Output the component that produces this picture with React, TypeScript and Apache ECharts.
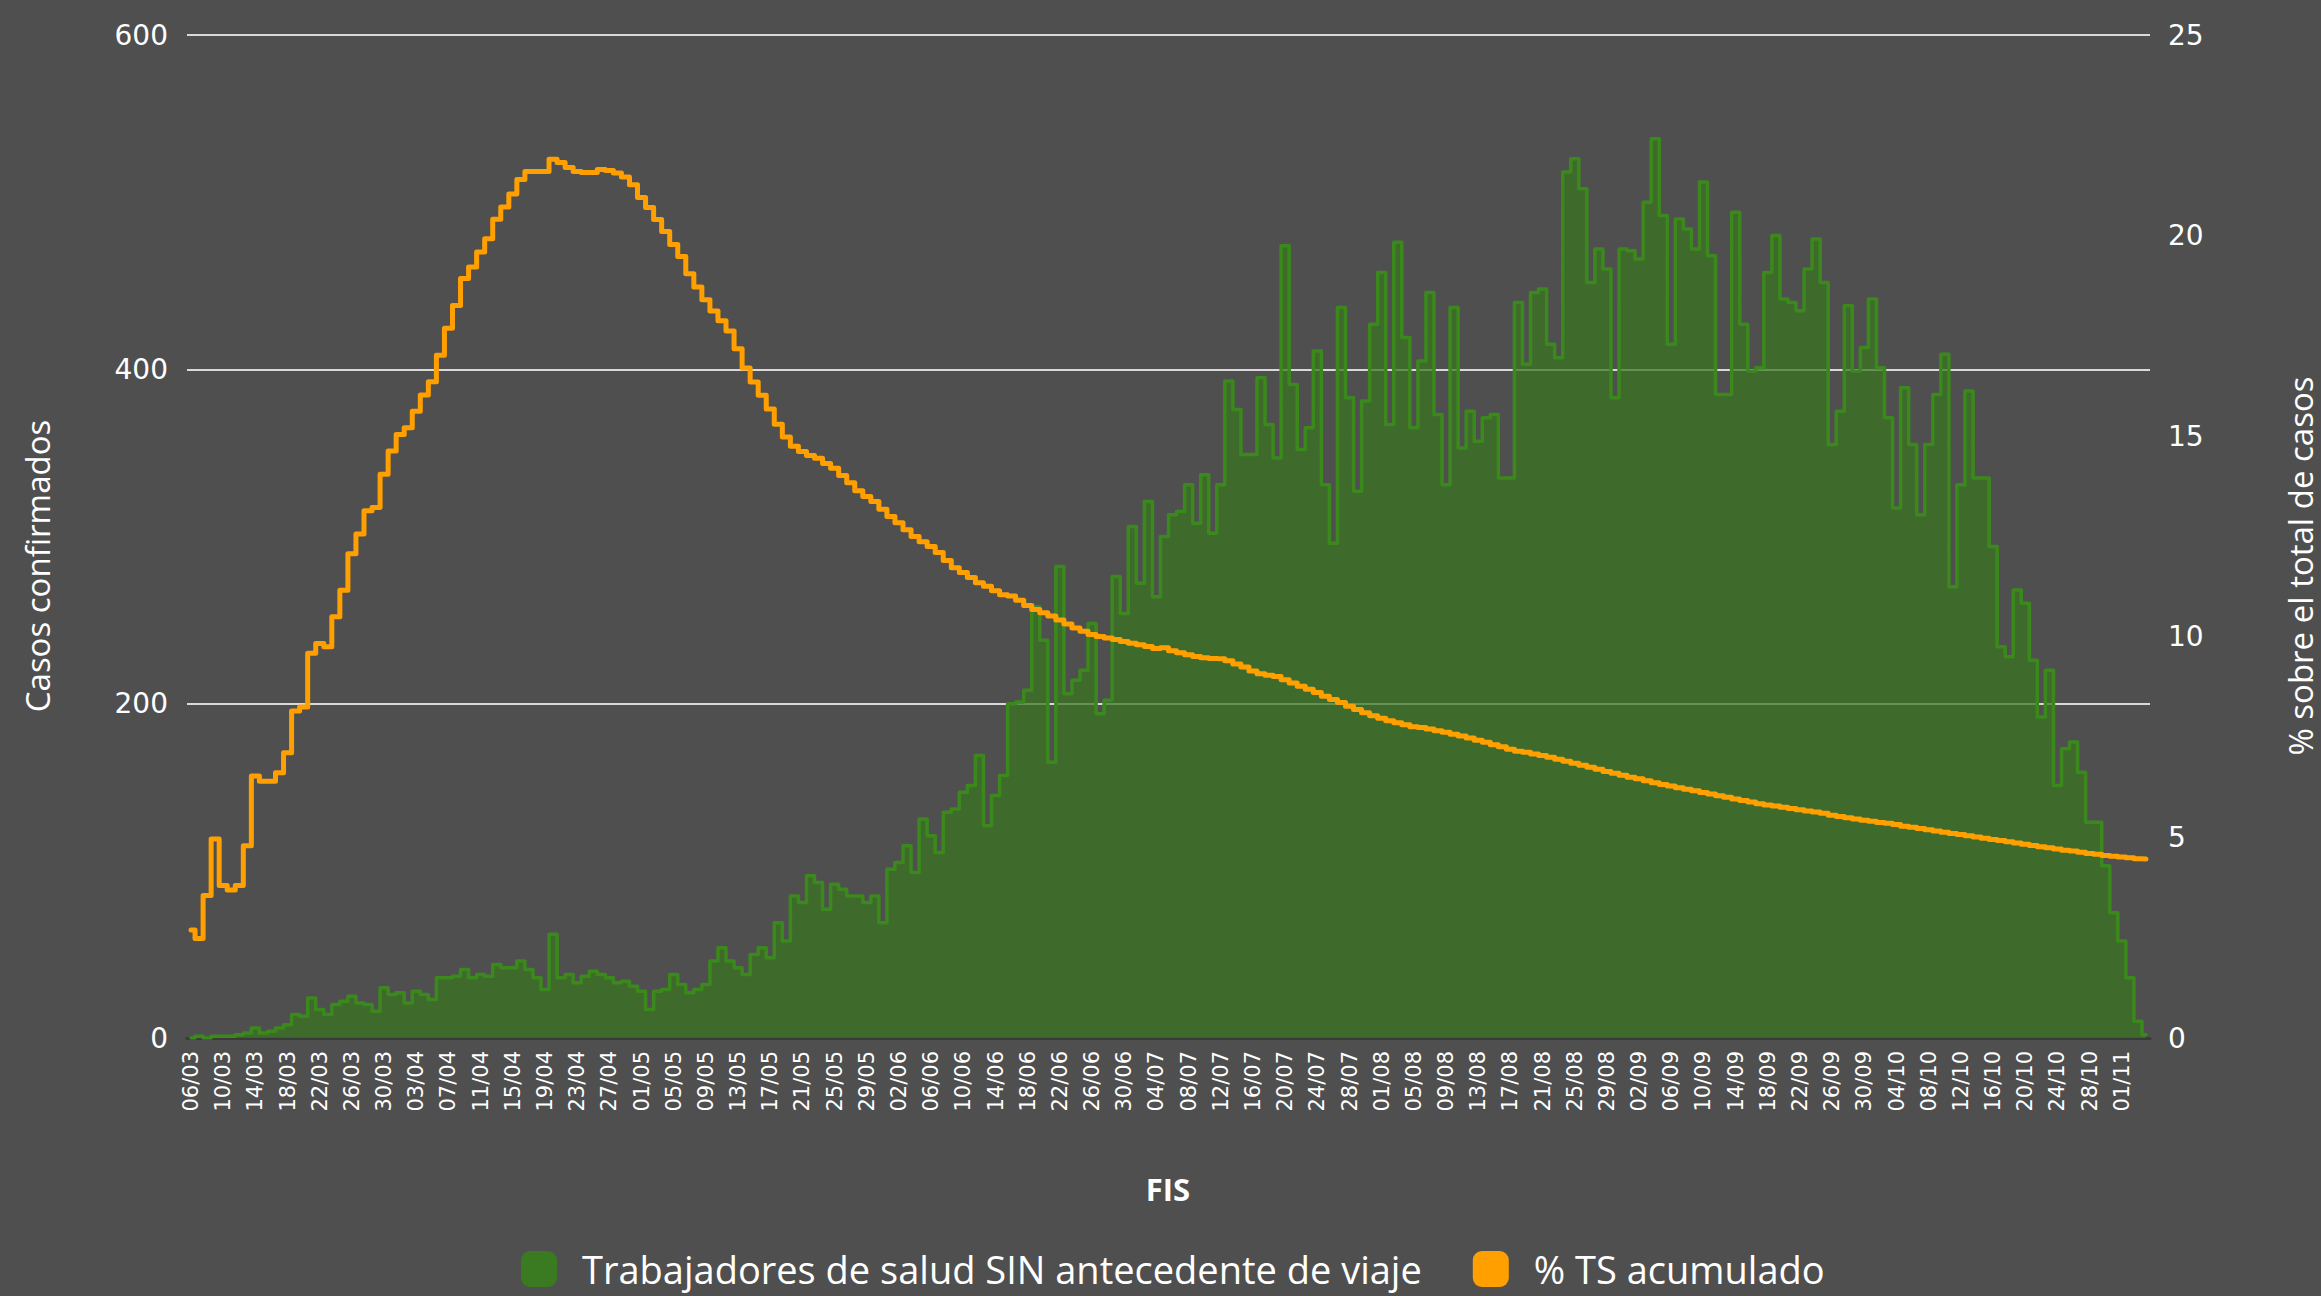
import React, { useEffect, useRef } from "react";
import * as echarts from "echarts";

const fechas = [
  "06/03","07/03","08/03","09/03","10/03","11/03","12/03","13/03","14/03","15/03","16/03","17/03","18/03","19/03","20/03","21/03","22/03","23/03","24/03","25/03","26/03","27/03","28/03","29/03","30/03","31/03",
  "01/04","02/04","03/04","04/04","05/04","06/04","07/04","08/04","09/04","10/04","11/04","12/04","13/04","14/04","15/04","16/04","17/04","18/04","19/04","20/04","21/04","22/04","23/04","24/04","25/04","26/04","27/04","28/04","29/04","30/04",
  "01/05","02/05","03/05","04/05","05/05","06/05","07/05","08/05","09/05","10/05","11/05","12/05","13/05","14/05","15/05","16/05","17/05","18/05","19/05","20/05","21/05","22/05","23/05","24/05","25/05","26/05","27/05","28/05","29/05","30/05","31/05",
  "01/06","02/06","03/06","04/06","05/06","06/06","07/06","08/06","09/06","10/06","11/06","12/06","13/06","14/06","15/06","16/06","17/06","18/06","19/06","20/06","21/06","22/06","23/06","24/06","25/06","26/06","27/06","28/06","29/06","30/06",
  "01/07","02/07","03/07","04/07","05/07","06/07","07/07","08/07","09/07","10/07","11/07","12/07","13/07","14/07","15/07","16/07","17/07","18/07","19/07","20/07","21/07","22/07","23/07","24/07","25/07","26/07","27/07","28/07","29/07","30/07","31/07",
  "01/08","02/08","03/08","04/08","05/08","06/08","07/08","08/08","09/08","10/08","11/08","12/08","13/08","14/08","15/08","16/08","17/08","18/08","19/08","20/08","21/08","22/08","23/08","24/08","25/08","26/08","27/08","28/08","29/08","30/08","31/08",
  "01/09","02/09","03/09","04/09","05/09","06/09","07/09","08/09","09/09","10/09","11/09","12/09","13/09","14/09","15/09","16/09","17/09","18/09","19/09","20/09","21/09","22/09","23/09","24/09","25/09","26/09","27/09","28/09","29/09","30/09",
  "01/10","02/10","03/10","04/10","05/10","06/10","07/10","08/10","09/10","10/10","11/10","12/10","13/10","14/10","15/10","16/10","17/10","18/10","19/10","20/10","21/10","22/10","23/10","24/10","25/10","26/10","27/10","28/10","29/10","30/10","31/10",
  "01/11","02/11","03/11","04/11"
];

// Casos confirmados diarios (trabajadores de salud sin antecedente de viaje)
const casos = [
  0,1,0,1,1,1,2,3,6,3, 4,6,8,14,13,24,17,14,20,22, 25,21,20,16,30,26,27,21,28,26, 23,36,36,37,41,36,38,37,44,42, 42,46,41,36,29,62,36,38,33,37, 40,
  38,36,33,34,31,28,17,28,29,38, 32,27,29,32,46,54,46,42,38,50, 54,48,69,58,85,81,97,93,77,92, 89,85,85,81,85,69,101,105,115,99, 131,121,111,135,137,147,151,169,127,145, 157,
  200,201,208,258,238,165,282,206,214,220, 248,194,202,276,254,306,272,321,264,300, 313,315,331,308,337,302,331,393,376,349, 349,395,367,347,474,391,352,365,411,331, 296,437,383,327,381,427,458,367,476,419, 365,
  405,446,373,331,437,353,375,357,371,373, 335,335,440,403,446,448,415,407,518,526, 508,452,472,460,383,472,471,466,500,538, 492,415,490,484,472,512,468,385,385,494, 427,399,401,458,480,442,440,435,460,478, 452,
  355,375,438,399,413,442,401,371,317,389, 355,313,355,385,409,270,331,387,335,335, 294,234,228,268,260,226,192,220,151,173, 177,159,129,129,103,75,58,36,10,2
];

// % TS acumulado sobre el total de casos
const porcentaje = [
  2.69,2.48,3.55,4.96,3.80,3.69,3.80,4.79,6.53,6.40, 6.40,6.61,7.11,8.15,8.25,9.59,9.83,9.75,10.50,11.16, 12.07,12.56,13.14,13.22,14.05,14.63,15.04,15.21,15.62,16.03, 16.36,17.02,17.69,18.26,18.93,19.22,19.59,19.92,20.41,20.71, 21.04,21.40,21.60,21.60,21.60,21.90,21.82,21.70,21.60,21.57, 21.57,
  21.65,21.62,21.56,21.46,21.27,20.95,20.70,20.40,20.10,19.78, 19.48,19.05,18.72,18.40,18.12,17.88,17.62,17.18,16.70,16.35, 16.02,15.68,15.30,14.98,14.75,14.62,14.52,14.45,14.32,14.20, 14.02,13.84,13.64,13.50,13.37,13.18,13.00,12.84,12.67,12.50, 12.37,12.25,12.10,11.90,11.72,11.60,11.48,11.35,11.26,11.15, 11.05,
  11.02,10.91,10.78,10.68,10.60,10.52,10.42,10.32,10.22,10.14, 10.06,10.01,9.97,9.93,9.88,9.84,9.80,9.76,9.71,9.73, 9.65,9.60,9.55,9.51,9.48,9.46,9.45,9.40,9.32,9.25, 9.15,9.08,9.04,9.01,8.93,8.85,8.77,8.69,8.61,8.52, 8.44,8.36,8.27,8.19,8.11,8.03,7.97,7.91,7.86,7.81, 7.76,
  7.74,7.70,7.66,7.62,7.57,7.53,7.48,7.42,7.37,7.31, 7.26,7.20,7.15,7.12,7.08,7.04,7.00,6.95,6.90,6.85, 6.80,6.75,6.70,6.64,6.60,6.55,6.50,6.46,6.41,6.36, 6.32,6.28,6.24,6.20,6.16,6.12,6.08,6.04,6.00,5.96, 5.92,5.88,5.84,5.81,5.78,5.75,5.72,5.69,5.66,5.63, 5.60,
  5.55,5.52,5.49,5.46,5.43,5.40,5.37,5.35,5.32,5.28, 5.25,5.22,5.19,5.16,5.13,5.10,5.07,5.04,5.01,4.98, 4.95,4.92,4.89,4.86,4.83,4.80,4.77,4.74,4.71,4.68, 4.66,4.63,4.60,4.58,4.55,4.53,4.51,4.49,4.47,4.46
];

const nombreCasos = "Trabajadores de salud SIN antecedente de viaje";
const nombrePct = "% TS acumulado";

export default function App() {
  const ref = useRef<HTMLDivElement>(null);

  useEffect(() => {
    document.body.style.margin = "0";
    if (!ref.current) return;
    const chart = echarts.init(ref.current, null, { renderer: "svg" });
    const white = "#ffffff";
    chart.setOption({
      animation: false,
      backgroundColor: "#4f4f4f",
      grid: { left: 187, right: 171, top: 35, bottom: 258, containLabel: false },
      legend: {
        left: 516,
        top: 1244,
        itemWidth: 36,
        itemHeight: 36,
        itemGap: 51,
        icon: "roundRect",
        data: [nombreCasos, nombrePct],
        textStyle: {
          color: white,
          fontSize: 38,
          lineHeight: 40,
          fontFamily: "Open Sans",
          padding: [0, 0, 0, 20],
        },
      },
      xAxis: {
        type: "category",
        data: fechas,
        boundaryGap: true,
        axisLine: { show: true, lineStyle: { color: "#3a3a3a", width: 3 } },
        axisTick: { show: false },
        axisLabel: { interval: 3, rotate: 90, color: white, fontFamily: "DejaVu Sans", fontSize: 21, margin: 13 },
        splitLine: { show: false },
      },
      yAxis: [
        {
          type: "value",
          min: 0,
          max: 600,
          interval: 200,
          axisLine: { show: false },
          axisTick: { show: false },
          splitLine: { lineStyle: { color: "#d9d9d9", width: 2 } },
          axisLabel: { color: white, fontSize: 28, fontFamily: "DejaVu Sans", margin: 19 },
        },
        {
          type: "value",
          min: 0,
          max: 25,
          interval: 5,
          position: "right",
          axisLine: { show: false },
          axisTick: { show: false },
          splitLine: { show: false },
          axisLabel: { color: white, fontSize: 28, fontFamily: "DejaVu Sans", margin: 18 },
        },
      ],
      series: [
        {
          name: nombreCasos,
          type: "line",
          step: "middle",
          yAxisIndex: 0,
          data: casos,
          symbol: "none",
          itemStyle: { color: "#3a7a20" },
          lineStyle: { color: "#3b891c", width: 3.5, join: "round", cap: "round" },
          areaStyle: { color: "rgb(56,118,30)", opacity: 0.72 },
          z: 2,
        },
        {
          name: nombrePct,
          type: "line",
          step: "middle",
          yAxisIndex: 1,
          data: porcentaje,
          symbol: "none",
          itemStyle: { color: "#ffa000" },
          lineStyle: { color: "#ffa000", width: 5, join: "round", cap: "round" },
          z: 3,
        },
      ],
      graphic: [
        {
          type: "text",
          x: 37,
          y: 566,
          rotation: Math.PI / 2,
          style: {
            text: "Casos confirmados",
            fill: white,
            fontSize: 33,
            fontFamily: "Open Sans",
            align: "center",
            verticalAlign: "middle",
            textAlign: "center",
            textVerticalAlign: "middle",
          },
        },
        {
          type: "text",
          x: 2300,
          y: 566,
          rotation: Math.PI / 2,
          style: {
            text: "% sobre el total de casos",
            fill: white,
            fontSize: 33,
            fontFamily: "Open Sans",
            align: "center",
            verticalAlign: "middle",
            textAlign: "center",
            textVerticalAlign: "middle",
          },
        },
        {
          type: "text",
          x: 1168,
          y: 1189,
          style: {
            text: "FIS",
            fill: white,
            fontSize: 31,
            fontWeight: "bold",
            fontFamily: "Open Sans",
            align: "center",
            verticalAlign: "middle",
            textAlign: "center",
            textVerticalAlign: "middle",
          },
        },
      ],
    });
    return () => chart.dispose();
  }, []);

  return <div ref={ref} style={{ width: 2321, height: 1296, overflow: "hidden" }} />;
}
